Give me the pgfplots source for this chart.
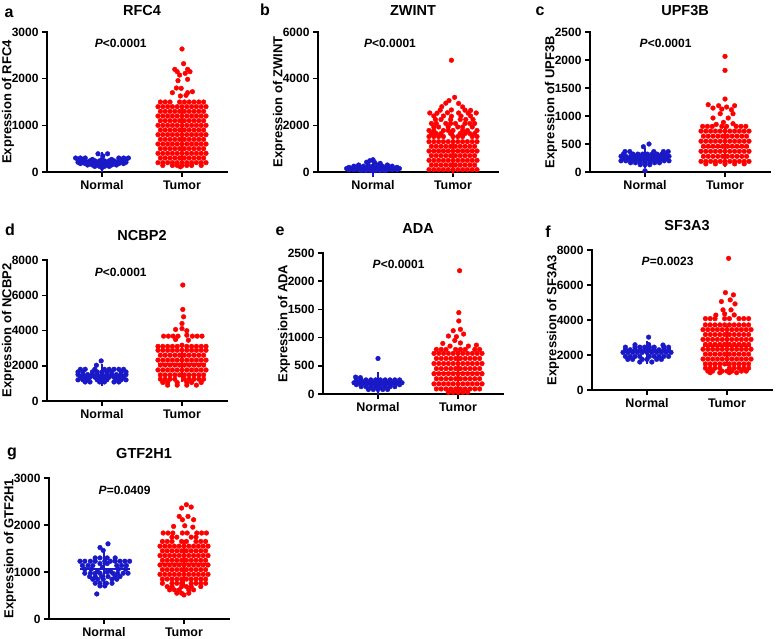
\documentclass[border=0pt]{standalone}
\usepackage{fontspec}
\setmainfont{Liberation Sans}
\usepackage{pgfplots}
\pgfplotsset{compat=1.18}
\definecolor{nblue}{RGB}{25,25,200}
\definecolor{tred}{RGB}{255,0,0}
\pgfplotsset{
  swarm/.style={
    scale only axis, width=180pt, height=140pt,
    xmin=31.25, xmax=256.25, ymin=0, clip=false,
    axis x line=bottom, axis y line=left,
    axis line style={line width=1.8pt, -, line cap=rect},
    xtick={100,200}, xticklabels={Normal,Tumor},
    tick style={line width=1.5pt, black},
    major tick length=5pt, tick align=outside,
    /pgf/number format/assume math mode=true,
    /pgf/number format/1000 sep={},
    scaled y ticks=false,
    yticklabel style={font=\bfseries\fontsize{12}{12}\selectfont},
    xticklabel style={font=\bfseries\fontsize{12.5}{12.5}\selectfont},
    ylabel style={at={(axis description cs:-0.217,0.5)}, anchor=center,
      font=\bfseries\fontsize{13}{13}\selectfont},
    title style={at={(axis description cs:0.528,1)}, anchor=base,
      font=\bfseries\fontsize{14.5}{14.5}\selectfont},
  },
  nrm/.style={only marks, mark=*, mark size=2.35pt, color=nblue},
  tmr/.style={only marks, mark=*, mark size=2.35pt, color=tred},
  mline/.style={no marks, line width=1.6pt},
  sdbar/.style={no marks, error bars/.cd, y dir=both, y explicit,
    error bar style={line width=1.6pt},
    error mark options={line width=1.6pt, mark size=7pt}},
}
\tikzset{ptext/.style={font=\bfseries\fontsize{12}{12}\selectfont}}
\newcommand{\plab}[3]{\node[anchor=base, font=\bfseries\fontsize{16}{16}\selectfont] at (#1pt,#2pt) {#3};}

\begin{document}
\begin{tikzpicture}
\path[use as bounding box] (0,0) rectangle (783pt,-638pt);

% ---------- a: RFC4
\begin{axis}[swarm, at={(47pt,-172pt)}, anchor=south west, ymax=3000,
  ytick={0,1000,2000,3000}, ylabel={Expression of RFC4},
  title={RFC4}, title style={yshift=11pt}]
\addplot[nrm] coordinates {
(95,390)(107,390)(101,345)
(67,300)(73,300)(79,300)(121,300)(127,300)(133,300)
(70,270)(76,270)(88,270)(100,270)(112,270)(124,270)(130,270)
(73,240)(79,240)(85,240)(91,240)(97,240)(103,240)(109,240)(115,240)(121,240)(127,240)
(70,210)(76,210)(82,210)(88,210)(94,210)(100,210)(106,210)(112,210)(118,210)(124,210)(130,210)
(73,180)(79,180)(85,180)(91,180)(97,180)(103,180)(109,180)(115,180)(121,180)(127,180)
(82,150)(88,150)(94,150)(100,150)(106,150)(112,150)(118,150)
(91,120)(97,120)(103,120)(109,120)(100,95)
};
\addplot[tmr] coordinates {
(200,2636)(202,2321)(191,2200)(194,2150)(207,2200)(204,2114)(197,2078)(210,2150)
(195,1957)(207,1986)(188,1700)(199,1793)(193,1800)(207,1700)(213,1721)(198,1629)(205,1643)
(173,1500)(179,1500)(185,1500)(197,1500)(203,1500)(209,1500)(215,1500)(221,1500)(227,1500)
(170,1400)(176,1400)(182,1400)(188,1400)(194,1400)(200,1400)(206,1400)(212,1400)(218,1400)(224,1400)(230,1400)
(173,1300)(179,1300)(185,1300)(191,1300)(197,1300)(203,1300)(209,1300)(215,1300)(221,1300)(227,1300)
(170,1200)(176,1200)(182,1200)(188,1200)(194,1200)(200,1200)(206,1200)(212,1200)(218,1200)(224,1200)(230,1200)
(173,1100)(179,1100)(185,1100)(191,1100)(197,1100)(203,1100)(209,1100)(215,1100)(221,1100)(227,1100)
(170,1000)(176,1000)(182,1000)(188,1000)(194,1000)(200,1000)(206,1000)(212,1000)(218,1000)(224,1000)(230,1000)
(173,900)(179,900)(185,900)(191,900)(197,900)(203,900)(209,900)(215,900)(221,900)(227,900)
(170,800)(176,800)(182,800)(188,800)(194,800)(200,800)(206,800)(212,800)(218,800)(224,800)(230,800)
(173,700)(179,700)(185,700)(191,700)(197,700)(203,700)(209,700)(215,700)(221,700)(227,700)
(170,600)(176,600)(182,600)(188,600)(194,600)(200,600)(206,600)(212,600)(218,600)(224,600)(230,600)
(173,500)(179,500)(185,500)(191,500)(197,500)(203,500)(209,500)(215,500)(221,500)(227,500)
(170,400)(176,400)(182,400)(188,400)(194,400)(200,400)(206,400)(212,400)(218,400)(224,400)(230,400)
(173,300)(179,300)(185,300)(191,300)(197,300)(203,300)(209,300)(215,300)(221,300)(227,300)
(170,200)(176,200)(182,200)(188,200)(194,200)(200,200)(206,200)(212,200)(218,200)(224,200)(230,200)
(176,140)(188,140)(194,140)(200,140)(206,140)(212,140)(224,140)(198,110)
};
\addplot[nblue, mline] coordinates {(70,215)(130,215)};
\addplot[nblue, sdbar] coordinates {(100,215) +- (0,60)};
\addplot[tred, mline] coordinates {(170,800)(230,800)};
\addplot[tred, sdbar] coordinates {(200,800) +- (0,420)};
\node[ptext] at (axis description cs:0.41,0.92) {\textit{P}<0.0001};
\end{axis}

% ---------- b: ZWINT
\begin{axis}[swarm, at={(318pt,-172pt)}, anchor=south west, ymax=6000,
  ytick={0,2000,4000,6000}, ylabel={Expression of ZWINT},
  title={ZWINT}, title style={yshift=11pt}]
\addplot[nrm] coordinates {
(100,526)(96,484)(92,420)(102,410)(109,371)
(82,300)(94,300)(106,300)(118,300)
(76,250)(82,250)(88,250)(94,250)(100,250)(106,250)(112,250)(118,250)(124,250)
(70,200)(76,200)(82,200)(88,200)(94,200)(100,200)(106,200)(112,200)(118,200)(124,200)(130,200)
(67,150)(73,150)(79,150)(85,150)(91,150)(97,150)(103,150)(109,150)(115,150)(121,150)(127,150)(133,150)
(70,100)(76,100)(82,100)(88,100)(94,100)(100,100)(106,100)(112,100)(118,100)(124,100)(130,100)
(85,60)(91,60)(97,60)(103,60)(109,60)(115,60)
};
\addplot[tmr] coordinates {
(198,4790)(202,3200)(195,3060)(191,2950)(207,2940)(186,2800)(212,2790)
(184,2650)(198,2660)(215,2650)(222,2640)
(171,2530)(180,2520)(193,2540)(207,2530)(219,2520)(229,2530)
(176,2400)(188,2400)(198,2390)(210,2400)(222,2400)
(178,2250)(185,2250)(197,2250)(209,2250)(216,2250)(225,2250)
(173,2080)(179,2080)(191,2080)(197,2080)(203,2080)(215,2080)(221,2080)(227,2080)
(176,1930)(182,1930)(194,1930)(206,1930)(212,1930)(224,1930)
(170,1780)(176,1780)(188,1780)(194,1780)(200,1780)(212,1780)(218,1780)(230,1780)
(173,1650)(179,1650)(185,1650)(197,1650)(209,1650)(215,1650)(221,1650)(227,1650)
(170,1520)(176,1520)(182,1520)(188,1520)(200,1520)(206,1520)(212,1520)(224,1520)(230,1520)
(170,1300)(176,1300)(182,1300)(188,1300)(194,1300)(200,1300)(206,1300)(212,1300)(218,1300)(224,1300)(230,1300)
(173,1100)(179,1100)(185,1100)(191,1100)(197,1100)(203,1100)(209,1100)(215,1100)(221,1100)(227,1100)
(170,900)(176,900)(182,900)(188,900)(194,900)(200,900)(206,900)(212,900)(218,900)(224,900)(230,900)
(173,700)(179,700)(185,700)(191,700)(197,700)(203,700)(209,700)(215,700)(221,700)(227,700)
(170,500)(176,500)(182,500)(188,500)(194,500)(200,500)(206,500)(212,500)(218,500)(224,500)(230,500)
(173,300)(179,300)(185,300)(191,300)(197,300)(203,300)(209,300)(215,300)(221,300)(227,300)
(170,100)(176,100)(182,100)(188,100)(194,100)(200,100)(206,100)(212,100)(218,100)(224,100)(230,100)
};
\addplot[nblue, mline] coordinates {(70,170)(130,170)};
\addplot[nblue, sdbar] coordinates {(100,170) +- (0,90)};
\addplot[tred, mline] coordinates {(170,900)(230,900)};
\addplot[tred, sdbar] coordinates {(200,900) +- (0,700)};
\node[ptext] at (axis description cs:0.40,0.92) {\textit{P}<0.0001};
\end{axis}

% ---------- c: UPF3B
\begin{axis}[swarm, at={(590pt,-172pt)}, anchor=south west, ymax=2500,
  ytick={0,500,1000,1500,2000,2500}, ylabel={Expression of UPF3B},
  title={UPF3B}, title style={yshift=11pt}]
\addplot[nrm] coordinates {
(105,500)(98,452)
(75,365)(81,365)(111,365)(123,365)(129,365)
(73,320)(85,320)(91,320)(97,320)(103,320)(109,320)(115,320)(121,320)(127,320)
(70,280)(76,280)(82,280)(88,280)(94,280)(100,280)(106,280)(112,280)(118,280)(124,280)(130,280)
(73,240)(79,240)(85,240)(91,240)(97,240)(103,240)(109,240)(115,240)(121,240)(127,240)
(70,200)(76,200)(82,200)(88,200)(94,200)(100,200)(106,200)(112,200)(118,200)(124,200)(130,200)
(82,165)(88,165)(94,165)(100,165)(106,165)(112,165)(118,165)
(94,130)(100,130)(106,130)(100,22)
};
\addplot[tmr] coordinates {
(200,2065)(200,1815)(200,1303)
(179,1202)(192,1184)(202,1160)(212,1184)(185,1142)(196,1124)(208,1113)(194,1041)(210,1041)
(185,964)(204,964)(198,887)(189,850)(210,863)
(172,815)(178,815)(184,815)(196,815)(202,815)(214,815)(220,815)(226,815)
(170,730)(176,730)(182,730)(188,730)(194,730)(200,730)(206,730)(212,730)(218,730)(224,730)(230,730)
(173,640)(179,640)(185,640)(191,640)(197,640)(203,640)(209,640)(215,640)(221,640)(227,640)
(170,550)(176,550)(182,550)(188,550)(194,550)(200,550)(206,550)(212,550)(218,550)(224,550)(230,550)
(173,460)(179,460)(185,460)(191,460)(197,460)(203,460)(209,460)(215,460)(221,460)(227,460)
(170,370)(176,370)(182,370)(188,370)(194,370)(200,370)(206,370)(212,370)(218,370)(224,370)(230,370)
(173,280)(179,280)(185,280)(191,280)(197,280)(203,280)(209,280)(215,280)(221,280)(227,280)
(170,190)(176,190)(182,190)(188,190)(194,190)(200,190)(206,190)(212,190)(218,190)(224,190)(230,190)
(176,145)(188,145)(200,145)(212,145)(224,145)
};
\addplot[nblue, mline] coordinates {(70,250)(130,250)};
\addplot[nblue, sdbar] coordinates {(100,250) +- (0,60)};
\addplot[tred, mline] coordinates {(170,450)(230,450)};
\addplot[tred, sdbar] coordinates {(200,450) +- (0,230)};
\node[ptext] at (axis description cs:0.42,0.92) {\textit{P}<0.0001};
\end{axis}

% ---------- d: NCBP2
\begin{axis}[swarm, at={(47pt,-401pt)}, anchor=south west, ymax=8000, height=141pt,
  ytick={0,2000,4000,6000,8000}, ylabel={Expression of NCBP2},
  title={NCBP2}, title style={yshift=14pt}]
\addplot[nrm] coordinates {
(99,2275)(93,2030)
(73,1800)(79,1800)(91,1800)(103,1800)(109,1800)(115,1800)(121,1800)(127,1800)
(70,1650)(76,1650)(88,1650)(94,1650)(100,1650)(106,1650)(112,1650)(124,1650)(130,1650)
(70,1500)(76,1500)(82,1500)(88,1500)(94,1500)(100,1500)(106,1500)(112,1500)(118,1500)(124,1500)(130,1500)
(73,1350)(79,1350)(85,1350)(91,1350)(97,1350)(103,1350)(109,1350)(115,1350)(121,1350)(127,1350)
(70,1200)(76,1200)(82,1200)(94,1200)(100,1200)(106,1200)(118,1200)(124,1200)(130,1200)
(79,1080)(85,1080)(97,1080)(103,1080)(115,1080)(121,1080)
};
\addplot[tmr] coordinates {
(201,6580)(201,5195)(202,4778)(200,4399)(192,4058)(200,4110)(206,3990)(206,3735)
(177,3680)(183,3680)(189,3680)(195,3680)(213,3680)(219,3680)(225,3680)
(192,3490)(208,3450)(200,3166)
(170,3100)(176,3100)(182,3100)(188,3100)(194,3100)(206,3100)(212,3100)(218,3100)(224,3100)(230,3100)
(170,2880)(176,2880)(182,2880)(188,2880)(194,2880)(200,2880)(206,2880)(212,2880)(218,2880)(224,2880)(230,2880)
(173,2600)(179,2600)(185,2600)(191,2600)(197,2600)(203,2600)(209,2600)(215,2600)(221,2600)(227,2600)
(170,2320)(176,2320)(182,2320)(188,2320)(194,2320)(200,2320)(206,2320)(212,2320)(218,2320)(224,2320)(230,2320)
(173,2040)(179,2040)(185,2040)(191,2040)(197,2040)(203,2040)(209,2040)(215,2040)(221,2040)(227,2040)
(170,1760)(176,1760)(182,1760)(188,1760)(194,1760)(200,1760)(206,1760)(212,1760)(218,1760)(224,1760)(230,1760)
(173,1480)(179,1480)(185,1480)(191,1480)(197,1480)(203,1480)(209,1480)(215,1480)(221,1480)(227,1480)
(173,1240)(179,1240)(185,1240)(191,1240)(203,1240)(209,1240)(215,1240)(221,1240)(227,1240)
(176,1050)(182,1050)(194,1050)(206,1050)(212,1050)(224,1050)
(182,900)(194,900)(206,900)(218,900)
};
\addplot[nblue, mline] coordinates {(70,1480)(130,1480)};
\addplot[nblue, sdbar] coordinates {(100,1480) +- (0,250)};
\addplot[tred, mline] coordinates {(170,2100)(230,2100)};
\addplot[tred, sdbar] coordinates {(200,2100) +- (0,650)};
\node[ptext] at (axis description cs:0.41,0.915) {\textit{P}<0.0001};
\end{axis}

% ---------- e: ADA
\begin{axis}[swarm, at={(323pt,-394pt)}, anchor=south west, ymax=2500, height=141pt,
  ytick={0,500,1000,1500,2000,2500}, ylabel={Expression of ADA},
  title={ADA}, title style={yshift=14pt}]
\addplot[nrm] coordinates {
(100,630)(72,300)(78,290)
(73,250)(79,250)(85,250)(91,250)(97,250)(103,250)(109,250)(115,250)(121,250)(127,250)
(70,200)(76,200)(82,200)(88,200)(94,200)(100,200)(106,200)(112,200)(118,200)(124,200)(130,200)
(73,165)(79,165)(85,165)(91,165)(97,165)(103,165)(109,165)(115,165)(121,165)(127,165)
(79,130)(85,130)(91,130)(97,130)(103,130)(109,130)(115,130)(121,130)
(88,80)(94,80)(100,80)(106,80)(112,80)
};
\addplot[tmr] coordinates {
(202,2186)(201,1443)(201,1295)(203,1146)(194,1123)
(188,1028)(198,1016)(207,1063)(196,950)(203,905)(181,897)(223,867)(190,850)(213,850)
(173,790)(179,790)(185,790)(197,790)(203,790)(209,790)(221,790)(227,790)
(170,720)(176,720)(182,720)(188,720)(194,720)(200,720)(206,720)(212,720)(218,720)(224,720)(230,720)
(173,630)(179,630)(185,630)(191,630)(197,630)(203,630)(209,630)(215,630)(221,630)(227,630)
(170,540)(176,540)(182,540)(188,540)(194,540)(200,540)(206,540)(212,540)(218,540)(224,540)(230,540)
(173,450)(179,450)(185,450)(191,450)(197,450)(203,450)(209,450)(215,450)(221,450)(227,450)
(170,360)(176,360)(182,360)(188,360)(194,360)(200,360)(206,360)(212,360)(218,360)(224,360)(230,360)
(173,270)(179,270)(185,270)(191,270)(197,270)(203,270)(209,270)(215,270)(221,270)(227,270)
(170,180)(176,180)(182,180)(188,180)(194,180)(200,180)(206,180)(212,180)(218,180)(224,180)(230,180)
(173,90)(179,90)(185,90)(191,90)(197,90)(203,90)(209,90)(215,90)(221,90)(227,90)
(188,30)(194,30)(200,30)(206,30)(212,30)
};
\addplot[nblue, mline] coordinates {(70,190)(130,190)};
\addplot[nblue, sdbar] coordinates {(100,190) +- (0,80)};
\addplot[tred, mline] coordinates {(170,380)(230,380)};
\addplot[tred, sdbar] coordinates {(200,380) +- (0,250)};
\node[ptext] at (axis description cs:0.42,0.92) {\textit{P}<0.0001};
\end{axis}

% ---------- f: SF3A3
\begin{axis}[swarm, at={(592pt,-390pt)}, anchor=south west, ymax=8000,
  ytick={0,2000,4000,6000,8000}, ylabel={Expression of SF3A3},
  title={SF3A3}, title style={yshift=14pt}]
\addplot[nrm] coordinates {
(102,3021)(85,2584)(102,2600)(120,2570)
(73,2450)(85,2450)(91,2450)(97,2450)(103,2450)(109,2450)(121,2450)(127,2450)
(73,2300)(79,2300)(85,2300)(91,2300)(97,2300)(103,2300)(109,2300)(115,2300)(121,2300)(127,2300)
(70,2150)(76,2150)(82,2150)(88,2150)(94,2150)(100,2150)(106,2150)(112,2150)(118,2150)(124,2150)(130,2150)
(73,1920)(79,1920)(85,1920)(91,1920)(103,1920)(109,1920)(115,1920)(121,1920)(127,1920)
(76,1750)(82,1750)(94,1750)(100,1750)(112,1750)(118,1750)
(91,1600)(106,1600)
};
\addplot[tmr] coordinates {
(202,7524)(198,5567)(208,5434)(193,5054)(204,5149)(210,4921)(195,4579)(205,4579)
(186,4280)(197,4351)(209,4290)
(173,4080)(179,4080)(185,4080)(197,4080)(203,4080)(215,4080)(221,4080)(227,4080)
(173,3720)(179,3720)(185,3720)(191,3720)(197,3720)(203,3720)(209,3720)(215,3720)(221,3720)(227,3720)
(170,3450)(176,3450)(182,3450)(188,3450)(194,3450)(200,3450)(206,3450)(212,3450)(218,3450)(224,3450)(230,3450)
(173,3170)(179,3170)(185,3170)(191,3170)(197,3170)(203,3170)(209,3170)(215,3170)(221,3170)(227,3170)
(170,2890)(176,2890)(182,2890)(188,2890)(194,2890)(200,2890)(206,2890)(212,2890)(218,2890)(224,2890)(230,2890)
(173,2610)(179,2610)(185,2610)(191,2610)(197,2610)(203,2610)(209,2610)(215,2610)(221,2610)(227,2610)
(170,2330)(176,2330)(182,2330)(188,2330)(194,2330)(200,2330)(206,2330)(212,2330)(218,2330)(224,2330)(230,2330)
(173,2050)(179,2050)(185,2050)(191,2050)(197,2050)(203,2050)(209,2050)(215,2050)(221,2050)(227,2050)
(170,1770)(176,1770)(182,1770)(188,1770)(194,1770)(200,1770)(206,1770)(212,1770)(218,1770)(224,1770)(230,1770)
(173,1490)(179,1490)(185,1490)(191,1490)(197,1490)(203,1490)(209,1490)(215,1490)(221,1490)(227,1490)
(173,1250)(179,1250)(185,1250)(191,1250)(203,1250)(209,1250)(215,1250)(221,1250)(227,1250)
(176,1080)(182,1080)(194,1080)(200,1080)(206,1080)(218,1080)(224,1080)
(179,990)(191,990)(203,990)(212,990)
};
\addplot[nblue, mline] coordinates {(70,2150)(130,2150)};
\addplot[nblue, sdbar] coordinates {(100,2150) +- (0,250)};
\addplot[tred, mline] coordinates {(170,2500)(230,2500)};
\addplot[tred, sdbar] coordinates {(200,2500) +- (0,750)};
\node[ptext] at (axis description cs:0.42,0.92) {\textit{P}=0.0023};
\end{axis}

% ---------- g: GTF2H1
\begin{axis}[swarm, at={(49pt,-619pt)}, anchor=south west, ymax=3000, height=141pt,
  ytick={0,1000,2000,3000}, ylabel={Expression of GTF2H1},
  title={GTF2H1}, title style={yshift=14pt}]
\addplot[nrm] coordinates {
(105,1600)(95,1520)(99,1460)
(89,1300)(95,1300)(104,1300)(114,1300)
(70,1230)(76,1230)(83,1230)(89,1230)(101,1230)(108,1230)(114,1230)(120,1230)(126,1230)(132,1230)
(95,1180)(104,1180)
(73,1138)(80,1138)(86,1138)(116,1138)(122,1138)(128,1138)(98,1100)
(76,1060)(84,1060)(118,1060)(127,1060)(92,1020)(108,1020)(104,1000)
(76,974)(83,974)(89,974)(95,974)(111,974)(117,974)(124,974)(130,974)
(82,903)(89,903)(97,903)(105,903)(114,903)(120,903)
(86,846)(92,846)(99,846)(110,846)(116,846)
(89,761)(95,761)(103,761)(110,761)
(95,704)(101,704)(91,533)
};
\addplot[tmr] coordinates {
(203,2432)(197,2361)(209,2382)(194,2183)(205,2183)(212,2112)(198,2112)(187,1970)(201,1984)(211,1955)
(174,1830)(180,1830)(186,1830)(198,1830)(204,1830)(216,1830)(222,1830)(228,1830)
(185,1742)(191,1742)(209,1742)(215,1742)
(173,1650)(179,1650)(185,1650)(197,1650)(203,1650)(215,1650)(221,1650)(227,1650)
(170,1550)(176,1550)(182,1550)(188,1550)(194,1550)(200,1550)(206,1550)(212,1550)(218,1550)(224,1550)(230,1550)
(173,1450)(179,1450)(185,1450)(191,1450)(197,1450)(203,1450)(209,1450)(215,1450)(221,1450)(227,1450)
(170,1350)(176,1350)(182,1350)(188,1350)(194,1350)(200,1350)(206,1350)(212,1350)(218,1350)(224,1350)(230,1350)
(173,1250)(179,1250)(185,1250)(191,1250)(197,1250)(203,1250)(209,1250)(215,1250)(221,1250)(227,1250)
(170,1150)(176,1150)(182,1150)(188,1150)(194,1150)(200,1150)(206,1150)(212,1150)(218,1150)(224,1150)(230,1150)
(173,1050)(179,1050)(185,1050)(191,1050)(197,1050)(203,1050)(209,1050)(215,1050)(221,1050)(227,1050)
(170,950)(176,950)(182,950)(188,950)(194,950)(200,950)(206,950)(212,950)(218,950)(224,950)(230,950)
(173,850)(179,850)(185,850)(191,850)(197,850)(203,850)(209,850)(215,850)(221,850)(227,850)
(173,760)(185,760)(191,760)(197,760)(209,760)(215,760)(221,760)(227,760)
(179,690)(185,690)(197,690)(203,690)(209,690)(221,690)
(182,620)(188,620)(194,620)(206,620)(212,620)
(191,550)(197,550)(206,550)(200,512)
};
\addplot[nblue, mline] coordinates {(70,1059)(132,1059)};
\addplot[nblue, sdbar] coordinates {(100,1059) +- (0,235)};
\addplot[tred, mline] coordinates {(170,1180)(230,1180)};
\addplot[tred, sdbar] coordinates {(200,1180) +- (0,360)};
\node[ptext] at (axis description cs:0.42,0.915) {\textit{P}=0.0409};
\end{axis}

\plab{9}{-17}{a}
\plab{265}{-15}{b}
\plab{540}{-15}{c}
\plab{10}{-235}{d}
\plab{280}{-235}{e}
\plab{548}{-237}{f}
\plab{12}{-456}{g}
\end{tikzpicture}
\end{document}
